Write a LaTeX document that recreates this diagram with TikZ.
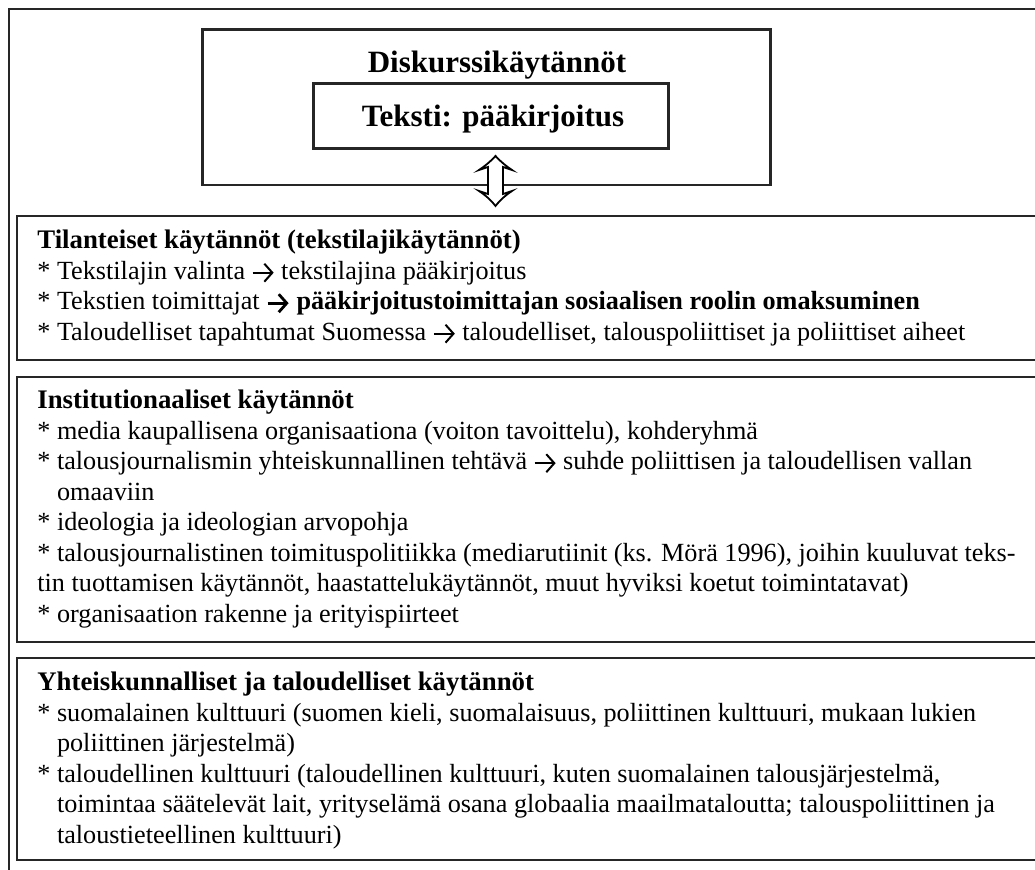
\documentclass[tikz,border=0pt]{standalone}
\usepackage{fontspec}
\usetikzlibrary{arrows.meta}
\setmainfont{Liberation Serif}
\newcommand{\bodysize}{\fontsize{13.1}{15}\selectfont}
\newcommand{\headsize}{\fontsize{13.4}{15}\selectfont\bfseries}
\newcommand{\contind}{\phantom{*}\ }
% inline arrow used inside the list items
\newcommand{\arr}[1][1pt]{\tikz[baseline=-3.4pt]\draw[line width=#1,-{Straight Barb[length=4pt,width=9pt,line width=#1]}] (0pt,0pt) -- (10.5pt,0pt);}
\begin{document}
\begin{tikzpicture}[x=0.5pt,y=-0.5pt,
  frame/.style={draw=black!85, line width=1.4pt},
  box/.style={draw=black!85, line width=1.4pt, fill=white, inner sep=0pt},
  ln/.style={anchor=base west, inner sep=0pt, font=\bodysize},
  hd/.style={anchor=base west, inner sep=0pt, font=\headsize},
  title/.style={anchor=base, inner sep=0pt, font=\fontsize{15.5}{18}\selectfont\bfseries}]
\useasboundingbox (0,0) rectangle (1035,870);
\clip (0,0) rectangle (1035,870);

% outer frame (open towards the right and bottom)
\coordinate (fTR) at (1060,9);
\coordinate (fTL) at (9,9);
\coordinate (fBL) at (9,890);
\draw[frame] (fTR) -- (fTL) -- (fBL);

% discourse practices with the text box inside
\node[box, minimum width=284.2pt, minimum height=77.9pt] (disk) at (486.5,107.2) {};
\node[box, minimum width=177.5pt, minimum height=32.5pt] (teksti) at (490.8,115.8) {};
\node[title] (diskT) at (497,73) {Diskurssikäytännöt};
\node[title] (tekstiT) at (493,127) {Teksti: pääkirjoitus};

% the three practice boxes
\node[box, minimum width=509.5pt, minimum height=72pt] (tilanne) at (526.5,288) {};
\node[box, minimum width=509.5pt, minimum height=132.5pt] (instit) at (526.5,509.5) {};
\node[box, minimum width=509.5pt, minimum height=101pt] (yhteis) at (526.5,759) {};

% hollow two-way arrow between the discourse box and the practices
\draw[line width=0.9pt, fill=white]
  (495.5,156) .. controls (501,162) and (506,166) .. (512,170) -- (503,167)
  -- (503,194) -- (512,191) .. controls (506,195) and (501,199) .. (495.5,206)
  .. controls (490,199) and (485,195) .. (479,191) -- (488,194)
  -- (488,167) -- (479,170) .. controls (485,166) and (490,162) .. cycle;

% situational practices
\node[hd] (t0) at (37,249) {Tilanteiset käytännöt (tekstilajikäytännöt)};
\node[ln] (t1) at (37,279.5) {* Tekstilajin valinta \arr{} tekstilajina pääkirjoitus};
\node[ln] (t2) at (37,310) {* Tekstien toimittajat \arr[1.4pt]{} \textbf{pääkirjoitustoimittajan sosiaalisen roolin omaksuminen}};
\node[ln] (t3) at (37,340.5) {* Taloudelliset tapahtumat Suomessa \arr{} taloudelliset, talouspoliittiset ja poliittiset aiheet};

% institutional practices
\node[hd] (i0) at (37,409) {Institutionaaliset käytännöt};
\node[ln] (i1) at (37,439.5) {* media kaupallisena organisaationa (voiton tavoittelu), kohderyhmä};
\node[ln] (i2) at (37,470) {* talousjournalismin yhteiskunnallinen tehtävä \arr{} suhde poliittisen ja taloudellisen vallan};
\node[ln] (i3) at (37,500.5) {\contind omaaviin};
\node[ln] (i4) at (37,531) {* ideologia ja ideologian arvopohja};
\node[ln] (i5) at (37,561.5) {* talousjournalistinen toimituspolitiikka (mediarutiinit (ks. Mörä 1996), joihin kuuluvat teks-};
\node[ln] (i6) at (37,592) {tin tuottamisen käytännöt, haastattelukäytännöt, muut hyviksi koetut toimintatavat)};
\node[ln] (i7) at (37,622.5) {* organisaation rakenne ja erityispiirteet};

% societal and economic practices
\node[hd] (y0) at (37,691) {Yhteiskunnalliset ja taloudelliset käytännöt};
\node[ln] (y1) at (37,721.5) {* suomalainen kulttuuri (suomen kieli, suomalaisuus, poliittinen kulttuuri, mukaan lukien};
\node[ln] (y2) at (37,752) {\contind poliittinen järjestelmä)};
\node[ln] (y3) at (37,782.5) {* taloudellinen kulttuuri (taloudellinen kulttuuri, kuten suomalainen talousjärjestelmä,};
\node[ln] (y4) at (37,813) {\contind toimintaa säätelevät lait, yrityselämä osana globaalia maailmataloutta; talouspoliittinen ja};
\node[ln] (y5) at (37,843.5) {\contind taloustieteellinen kulttuuri)};
\end{tikzpicture}
\end{document}
